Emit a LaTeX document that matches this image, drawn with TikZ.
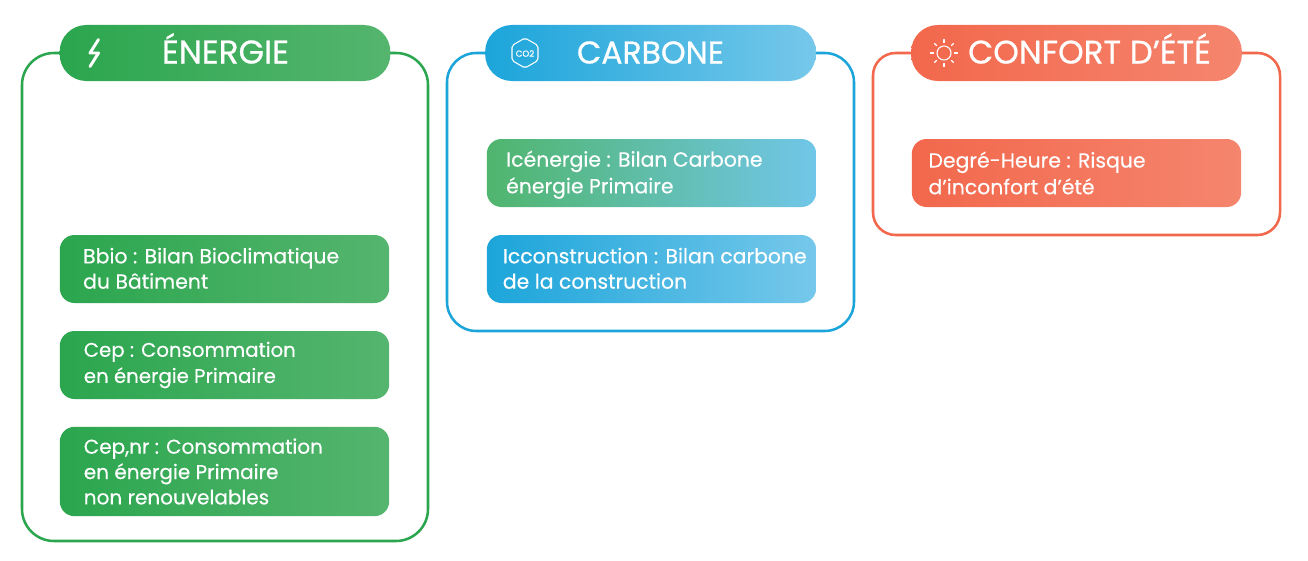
\documentclass[tikz,border=0pt]{standalone}
\usepackage{fontspec}
\setmainfont{Poppins}[FakeBold=0.35]
\newfontfamily\headfont{Poppins}[FakeBold=0.7]
\definecolor{gA}{HTML}{2BA64E}\definecolor{gB}{HTML}{55B56E}
\definecolor{bA}{HTML}{1CA5DA}\definecolor{bB}{HTML}{76C8EA}
\definecolor{rA}{HTML}{F2684C}\definecolor{rB}{HTML}{F5856E}
\definecolor{mA}{HTML}{50B56D}\definecolor{mB}{HTML}{70C6E8}
\tikzset{x=0.75pt,y=-0.75pt,
 frame/.style n args={2}{draw=#1,line width=1.9pt,rounded corners=#2},
 header/.style n args={2}{rectangle,rounded corners=20pt,minimum width=248pt,minimum height=42pt,inner sep=0pt,left color=#1,right color=#2},
 item/.style n args={3}{rectangle,rounded corners=11pt,minimum width=247pt,minimum height=#3,inner sep=0pt,left color=#1,right color=#2},
 htext/.style={text=white,font=\headfont\fontsize{24}{26}\selectfont,inner sep=0pt,anchor=base},
 itext/.style={text=white,font=\fontsize{15.3}{19}\selectfont,align=left,anchor=west,inner sep=0pt},
 icon/.style={draw=white,line cap=round,line join=round}}
\begin{document}
\begin{tikzpicture}
\useasboundingbox (0,0) rectangle (1308,560);
\fill[white] (0,0) rectangle (1308,560);
% frames
\draw[frame={gA}{24pt}] (22,53) rectangle (428,541);
\draw[frame={bA}{22pt}] (447,53) rectangle (854,331);
\draw[frame={rA}{17pt}] (873,53) rectangle (1280,235);
% headers
\node[header={gA}{gB}] (hE) at (225,53) {};
\node[htext,font=\headfont\fontsize{24.6}{26}\selectfont] (tE) at (225.5,63.5) {ÉNERGIE};
\node[header={bA}{bB}] (hC) at (650.5,53) {};
\node[htext,font=\headfont\fontsize{23.6}{26}\selectfont] (tC) at (650.5,63.5) {CARBONE};
\node[header={rA}{rB}] (hR) at (1076.5,53) {};
\node[htext,font=\headfont\fontsize{24.4}{26}\selectfont] (tR) at (1089.5,63.5) {CONFORT D’ÉTÉ};
% items
\node[item={gA}{gB}{51pt}] (e1) at (224.5,269) {};
\node[itext] at ([xshift=17.5pt,yshift=0.5pt]e1.west) {Bbio : Bilan Bioclimatique\\du Bâtiment};
\node[item={gA}{gB}{51pt}] (e2) at (224.5,365) {};
\node[itext,font=\fontsize{14.8}{19.6}\selectfont] at ([xshift=18pt]e2.west) {Cep : Consommation\\en énergie Primaire};
\node[item={gA}{gB}{67pt}] (e3) at (224.5,471.5) {};
\node[itext,font=\fontsize{15}{19}\selectfont] at ([xshift=18pt]e3.west) {Cep,nr : Consommation\\en énergie Primaire\\non renouvelables};
\node[item={mA}{mB}{51pt}] (c1) at (651.5,173) {};
\node[itext,font=\fontsize{15.3}{20}\selectfont] at ([xshift=14.5pt,yshift=-1.3pt]c1.west) {Icénergie : Bilan Carbone\\énergie Primaire};
\node[item={bA}{bB}{51pt}] (c2) at (651.5,269) {};
\node[itext] at ([xshift=12pt,yshift=0.5pt]c2.west) {Icconstruction : Bilan carbone\\de la construction};
\node[item={rA}{rB}{51pt}] (r1) at (1076.5,173) {};
\node[itext,font=\fontsize{15.3}{20}\selectfont] at ([xshift=12.5pt]r1.west) {Degré-Heure : Risque\\d’inconfort d’été};
% bolt icon
\draw[icon,line width=2.2pt] (98.5,39.5) -- (90,53) -- (98.5,53) -- (90,66.5);
% CO2 icon
\draw[icon,line width=0.8pt,rounded corners=1.5pt] (525,38) -- (538,45.5) -- (538,60.5) -- (525,68) -- (512,60.5) -- (512,45.5) -- cycle;
\node[text=white,inner sep=0pt,font=\headfont\fontsize{6.5}{6.5}\selectfont] (co2) at (525,53.5) {CO2};
% sun icon
\draw[icon,line width=0.8pt] (944,53) circle (7);
\foreach \a in {0,45,...,315}{
 \draw[icon,line width=0.9pt] (944,53) ++(\a:10.5) -- ++(\a:3);
}
\end{tikzpicture}
\end{document}
